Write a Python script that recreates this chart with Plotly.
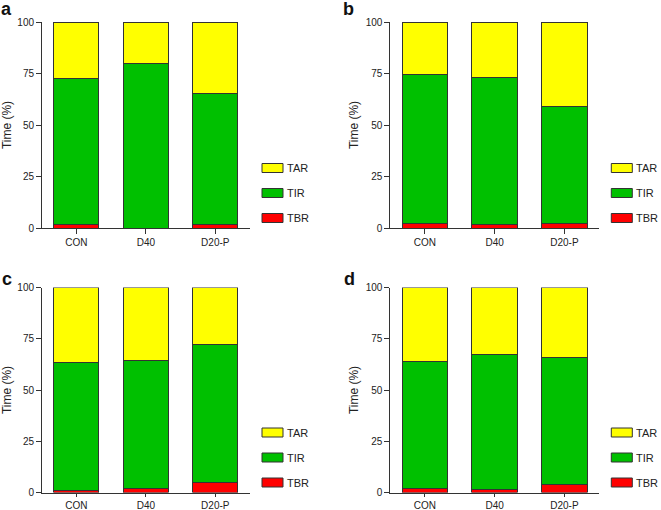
import plotly.graph_objects as go

W, H = 661, 510

categories = ["CON", "D40", "D20-P"]
series_names = ["TBR", "TIR", "TAR"]
series_colors = {"TBR": "#ff0000", "TIR": "#00c000", "TAR": "#ffff00"}
legend_order = ["TAR", "TIR", "TBR"]
panel_labels = ["a", "b", "c", "d"]
y_ticks = [0, 25, 50, 75, 100]
y_title = "Time (%)"

# values per panel (percent of time)
tbr_a = [1.5, 0.0, 1.8]
tir_a = [71.3, 79.7, 63.7]
tar_a = [27.2, 20.3, 34.5]

tbr_b = [2.3, 1.6, 2.3]
tir_b = [72.1, 71.4, 56.9]
tar_b = [25.6, 27.0, 40.8]

tbr_c = [1.1, 1.8, 5.0]
tir_c = [62.3, 62.5, 67.3]
tar_c = [36.6, 35.7, 27.7]

tbr_d = [2.1, 1.6, 3.9]
tir_d = [62.0, 65.8, 62.0]
tar_d = [35.9, 32.6, 34.1]

panels = [
    {"TBR": tbr_a, "TIR": tir_a, "TAR": tar_a},
    {"TBR": tbr_b, "TIR": tir_b, "TAR": tar_b},
    {"TBR": tbr_c, "TIR": tir_c, "TAR": tar_c},
    {"TBR": tbr_d, "TIR": tir_d, "TAR": tar_d},
]

# pixel boxes of each plotting area: (left, right, top, bottom)
boxes = [
    (41.7, 250.0, 22.0, 228.0),
    (390.0, 599.3, 22.0, 228.0),
    (41.7, 250.0, 287.5, 492.5),
    (390.0, 599.3, 287.5, 492.5),
]
x_ticklens = [4.5, 4.5, 3.5, 3.5]
letter_pos = [(-1.5, -3.5), (341, -3.5), (0, 266.5), (342, 266.5)]

FONT = "Liberation Sans, Arial, Helvetica, sans-serif"
AXC = "#333333"
TXC = "#222222"

fig = go.Figure()
layout = dict(
    width=W, height=H,
    margin=dict(l=0, r=0, t=0, b=0),
    paper_bgcolor="white", plot_bgcolor="white",
    barmode="stack", showlegend=False,
    font=dict(family=FONT, color=TXC),
)
shapes = []
annotations = []

for i, (data, box) in enumerate(zip(panels, boxes)):
    n = i + 1
    xa = "x" if n == 1 else f"x{n}"
    ya = "y" if n == 1 else f"y{n}"
    for s in series_names:
        fig.add_trace(go.Bar(
            x=categories, y=data[s], name=s,
            xaxis=xa, yaxis=ya, width=0.65,
            marker=dict(color=series_colors[s], line=dict(color=AXC, width=1)),
            hoverinfo="skip",
        ))
    l, r, t, b = box
    xkey = "xaxis" if n == 1 else f"xaxis{n}"
    ykey = "yaxis" if n == 1 else f"yaxis{n}"
    layout[xkey] = dict(
        domain=[l / W, r / W], anchor=ya, range=[-0.5, 2.5], automargin=False,
        showline=True, linecolor=AXC, linewidth=1.3,
        ticks="outside", ticklen=x_ticklens[i], tickwidth=1.2, tickcolor=AXC,
        tickfont=dict(size=10, family=FONT, color=TXC),
        showgrid=False, zeroline=False, fixedrange=True,
    )
    layout[ykey] = dict(
        domain=[1 - b / H, 1 - t / H], anchor=xa, range=[0, 100], automargin=False,
        tickvals=y_ticks, showline=True, linecolor=AXC, linewidth=1.3,
        ticks="outside", ticklen=4.5, tickwidth=1.2, tickcolor=AXC,
        tickfont=dict(size=10, family=FONT, color=TXC),
        title=dict(text=y_title, font=dict(size=12, family=FONT, color=TXC), standoff=4),
        showgrid=False, zeroline=False, fixedrange=True,
    )
    lx, ly = letter_pos[i]
    annotations.append(dict(
        text=f"<b>{panel_labels[i]}</b>", xref="paper", yref="paper",
        x=lx / W, y=1 - ly / H,
        xanchor="left", yanchor="top", showarrow=False,
        font=dict(size=18, family=FONT, color="#111111"),
    ))
    for k, s in enumerate(legend_order):
        yc = b - [60, 35, 10][k]
        shapes.append(dict(
            type="rect", xref="paper", yref="paper",
            x0=(r + 12) / W, x1=(r + 33) / W,
            y0=1 - (yc + 4.5) / H, y1=1 - (yc - 4.5) / H,
            fillcolor=series_colors[s], line=dict(color=AXC, width=1),
        ))
        annotations.append(dict(
            text=s, xref="paper", yref="paper",
            x=(r + 35) / W, y=1 - yc / H, xanchor="left", yanchor="middle",
            showarrow=False, font=dict(size=11, family=FONT, color=TXC),
        ))

layout["shapes"] = shapes
layout["annotations"] = annotations
fig.update_layout(**layout)
fig.write_html(
    "out.html",
    config={"displayModeBar": False},
    post_script="document.body.style.margin='0';document.body.style.overflow='hidden';",
)
